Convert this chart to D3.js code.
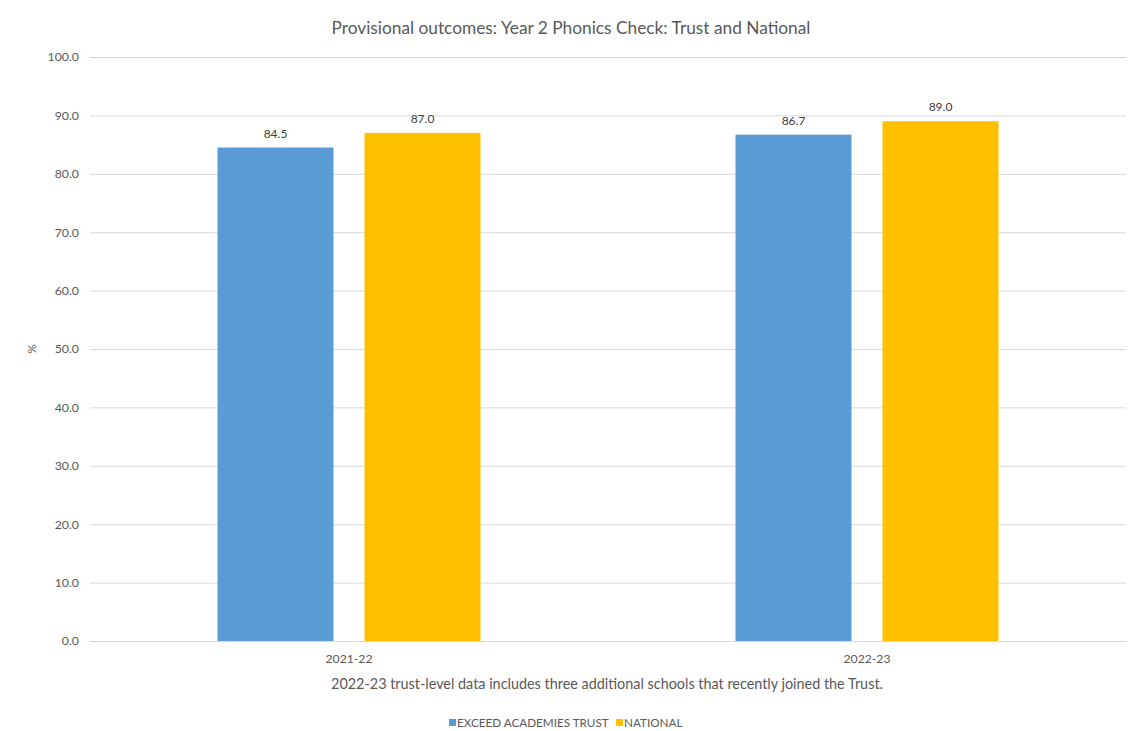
<!DOCTYPE html>
<html>
<head>
<meta charset="utf-8">
<script src="https://cdn.jsdelivr.net/npm/d3@7"></script>
<style>
  html, body { margin: 0; padding: 0; background: #fff; }
  svg { display: block; font-family: Lato, "Open Sans", sans-serif; }
</style>
</head>
<body>
<svg id="chart" width="1129" height="731"></svg>
<script>
// Academic years on the x axis
const years = ["2021-22", "2022-23"];
// Series names and their bar colours
const seriesNames = ["EXCEED ACADEMIES TRUST", "NATIONAL"];
const seriesColors = ["#5B9BD5", "#FFC000"];
// Percentage passing the phonics check
const trustValues = [84.5, 86.7];
const nationalValues = [87.0, 89.0];
// Y-axis tick values
const yTicks = [0, 10, 20, 30, 40, 50, 60, 70, 80, 90, 100];

const titleText = "Provisional outcomes: Year 2 Phonics Check: Trust and National";
const noteText = "2022-23 trust-level data includes three additional schools that recently joined the Trust.";

const svg = d3.select("#chart");
const textColor = "#595959";
const fontStack = "Lato, 'Open Sans', sans-serif";

const x0 = d3.scaleBand().domain(years).range([90, 1126]).padding(0);
const y = d3.scaleLinear().domain([0, 100]).range([641, 57]);

const groupWidth = 263;
const x1 = d3.scaleBand().domain(seriesNames).range([-groupWidth / 2, groupWidth / 2])
  .paddingInner(0.211).paddingOuter(0);

// Title
svg.append("text")
  .attr("x", 571).attr("y", 34)
  .attr("text-anchor", "middle")
  .attr("fill", textColor)
  .attr("font-size", 17.3)
  .text(titleText);

// Gridlines and y tick labels
const yAxis = d3.axisLeft(y).tickValues(yTicks).tickFormat(d3.format(".1f"))
  .tickSize(-(1126 - 90)).tickPadding(11);
const gy = svg.append("g").attr("transform", "translate(90,0)").call(yAxis);
gy.select(".domain").remove();
gy.selectAll(".tick line").attr("stroke", "#d9d9d9").attr("stroke-width", 1);
gy.selectAll(".tick text").attr("fill", textColor).attr("font-size", 12.3)
  .attr("font-family", fontStack);

// Y-axis title
svg.append("text")
  .attr("transform", "translate(36,349) rotate(-90)")
  .attr("text-anchor", "middle")
  .attr("fill", textColor)
  .attr("font-size", 12)
  .text("%");

// Bars
const rows = years.map((yr, i) => ({
  year: yr,
  values: [
    { name: seriesNames[0], value: trustValues[i], color: seriesColors[0] },
    { name: seriesNames[1], value: nationalValues[i], color: seriesColors[1] }
  ]
}));

const groups = svg.append("g").selectAll("g")
  .data(rows).join("g")
  .attr("transform", d => `translate(${x0(d.year) + x0.bandwidth() / 2},0)`);

groups.selectAll("rect")
  .data(d => d.values).join("rect")
  .attr("x", d => x1(d.name))
  .attr("width", x1.bandwidth())
  .attr("y", d => y(d.value))
  .attr("height", d => y(0) - y(d.value))
  .attr("fill", d => d.color);

groups.selectAll("text.val")
  .data(d => d.values).join("text")
  .attr("class", "val")
  .attr("x", d => x1(d.name) + x1.bandwidth() / 2)
  .attr("y", d => y(d.value) - 10)
  .attr("text-anchor", "middle")
  .attr("fill", "#404040")
  .attr("font-size", 12)
  .text(d => d3.format(".1f")(d.value));

// Category labels
const xAxis = d3.axisBottom(x0).tickSize(0).tickPadding(13);
const gx = svg.append("g").attr("transform", "translate(0,641)").call(xAxis);
gx.select(".domain").attr("stroke", "#d9d9d9");
gx.selectAll(".tick text").attr("fill", textColor).attr("font-size", 12.2)
  .attr("font-family", fontStack);

// Footnote
svg.append("text")
  .attr("x", 607).attr("y", 689)
  .attr("text-anchor", "middle")
  .attr("fill", textColor)
  .attr("font-size", 14.4)
  .text(noteText);

// Legend
const legendX = [449, 616];
const legend = svg.append("g").selectAll("g")
  .data(seriesNames).join("g")
  .attr("transform", (d, i) => `translate(${legendX[i]},727)`);
legend.append("rect")
  .attr("x", 0).attr("y", -8).attr("width", 7).attr("height", 7)
  .attr("fill", (d, i) => seriesColors[i]);
legend.append("text")
  .attr("x", 8).attr("y", 0)
  .attr("fill", textColor)
  .attr("font-size", 11.7)
  .text(d => d);
</script>
</body>
</html>
